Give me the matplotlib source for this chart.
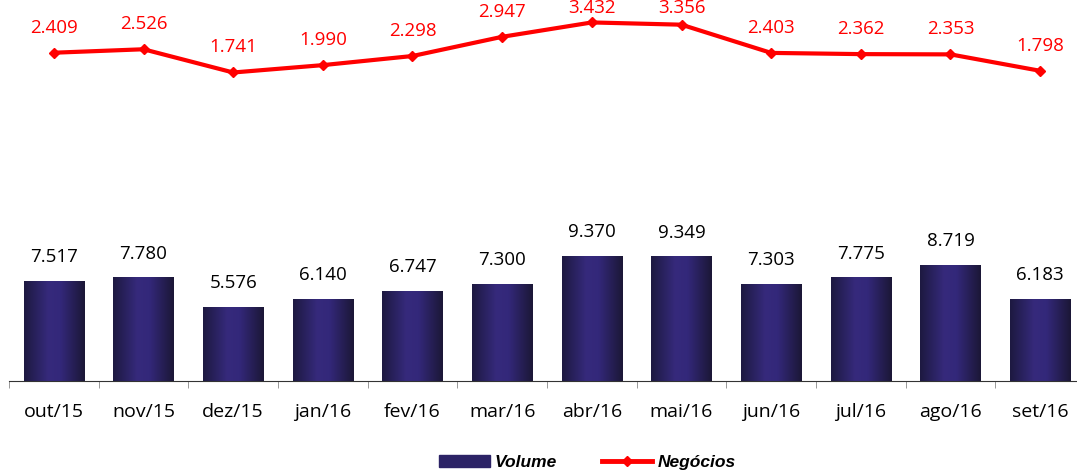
import numpy as np
import matplotlib.pyplot as plt
from matplotlib.colors import LinearSegmentedColormap
from matplotlib.patches import Rectangle
from matplotlib.lines import Line2D

# dados
meses = ['out/15', 'nov/15', 'dez/15', 'jan/16', 'fev/16', 'mar/16',
         'abr/16', 'mai/16', 'jun/16', 'jul/16', 'ago/16', 'set/16']
volume = [7.517, 7.780, 5.576, 6.140, 6.747, 7.300,
          9.370, 9.349, 7.303, 7.775, 8.719, 6.183]
negocios = [2.409, 2.526, 1.741, 1.990, 2.298, 2.947,
            3.432, 3.356, 2.403, 2.362, 2.353, 1.798]

fonte = 'Open Sans'
cmap = LinearSegmentedColormap.from_list(
    'barra', [(0.0, '#1d1940'), (0.4, '#362a7c'), (0.6, '#33287a'), (1.0, '#1b1736')])

fig = plt.figure(figsize=(10.77, 4.72), dpi=100)
ax = fig.add_axes([9 / 1077, 91 / 472, 1076 / 1077, 381 / 472])
x = np.arange(len(meses))

barras = ax.bar(x, volume, width=0.67, color='#2c2366', zorder=2)
grad = np.linspace(0, 1, 256).reshape(1, -1)
for b in barras:
    x0, y0 = b.get_x(), b.get_y()
    im = ax.imshow(grad, cmap=cmap, aspect='auto', zorder=3,
                   extent=[x0, x0 + b.get_width(), y0, y0 + b.get_height()])
    im.set_clip_path(b)

for xi, v in zip(x, volume):
    ax.annotate(f'{v:.3f}', (xi, v), xytext=(0, 17), textcoords='offset points',
                ha='center', va='center', fontsize=13.5, family=fonte, color='black')

ax.set_xlim(-0.5, 11.5)
ax.set_ylim(0, 28.56)
ax.set_xticks(x)
ax.set_xticklabels(meses, fontsize=14, family=fonte)
ax.set_xticks(np.arange(-0.5, 12, 1), minor=True)
ax.tick_params(axis='x', which='major', length=0, pad=16)
ax.tick_params(axis='x', which='minor', length=5, color='#888888')
ax.set_yticks([])
for s in ['top', 'right', 'left']:
    ax.spines[s].set_visible(False)
ax.spines['bottom'].set_color('#333333')

ax2 = ax.twinx()
ax2.plot(x, negocios, color='#ff0000', lw=3, marker='D', markersize=5, zorder=4)
ax2.set_ylim(-8.68, 4.19)
ax2.axis('off')

# rótulos da linha: acima do ponto, sem passar da borda de cima
fig.canvas.draw()
altura = fig.bbox.height
for xi, v in zip(x, negocios):
    py = ax2.transData.transform((xi, v))[1]
    ty = min(py + 25, altura - 8)
    ax2.annotate(f'{v:.3f}', (xi, v), xytext=(0, ty - py), textcoords='offset pixels',
                 ha='center', va='center', fontsize=13.5, family=fonte, color='#ff0000')

# legenda
h1 = Rectangle((0, 0), 1, 1, color='#2c2366')
h2 = Line2D([], [], color='#ff0000', lw=3.5, marker='D', markersize=5)
fig.legend([h1, h2], ['Volume', 'Negócios'], loc='center', bbox_to_anchor=(0.5455, 0.021),
           ncol=2, frameon=False, handlelength=2.9, handletextpad=0.3, columnspacing=2.6,
           prop={'family': 'Liberation Sans', 'weight': 'bold', 'style': 'italic', 'size': 12.5})

fig.savefig('out.png', dpi=100)
